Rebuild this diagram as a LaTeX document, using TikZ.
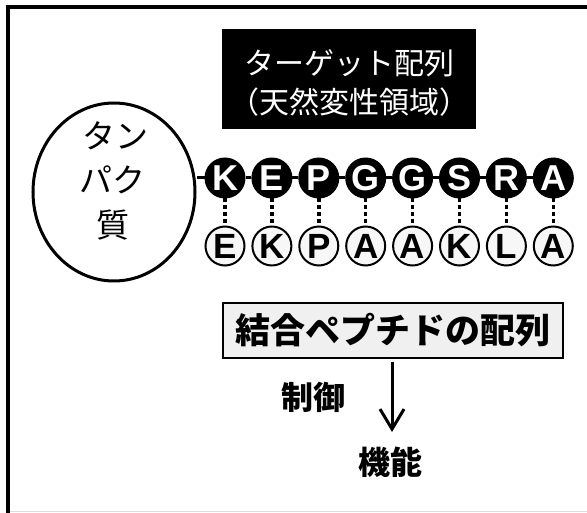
\documentclass[tikz,border=0pt]{standalone}
\usepackage{fontspec}
\setmainfont{Liberation Sans}
\newfontfamily\cjk{Noto Sans CJK JP}
\usetikzlibrary{arrows.meta,shapes.geometric}
\tikzset{
  tres/.style={circle, fill=black, draw=black, line width=1pt, minimum size=40pt, inner sep=0pt,
    text=white, font=\fontsize{36}{36}\selectfont\bfseries},
  bres/.style={circle, fill=gray!6, draw=black, line width=2pt, minimum size=39pt, inner sep=0pt,
    text=black, font=\fontsize{35}{35}\selectfont\bfseries},
  chainline/.style={line width=3pt},
  dotline/.style={line width=3.5pt, dash pattern=on 4pt off 3pt},
  jlabel/.style={font=\cjk\bfseries\fontsize{32}{32}\selectfont, inner sep=0pt},
  jlight/.style={font=\cjk\fontsize{33}{33}\selectfont, inner sep=0pt},
  jwhite/.style={font=\cjk\fontsize{30}{30}\selectfont, text=white, inner sep=0pt},
}
\begin{document}
\begin{tikzpicture}[x=1pt,y=-1pt]
\useasboundingbox (0,0) rectangle (587,513);
% frame
\draw[line width=3.5pt] (8,530) -- (8,7) -- (600,7);
\draw[gray!25, line width=1pt] (10,511) -- (587,511);
% target box
\node[fill=black, minimum width=254pt, minimum height=100pt, inner sep=0pt] (tgt) at (349,79) {};
\node[jwhite] (tgt1) at (349,63) {ターゲット配列};
\node[jwhite] (tgt2) at (349,102) {（天然変性領域）};
% protein
\node[draw, ellipse, line width=3pt, minimum width=162pt, minimum height=178pt, inner sep=0pt] (prot) at (114,192) {};
\node[jlight] (p1) at (115,136) {タン};
\node[jlight] (p2) at (112,180) {パク};
\node[jlight] (p3) at (113,225) {質};
% residues
\foreach \i/\a/\b in {0/K/E,1/E/K,2/P/P,3/G/A,4/G/A,5/S/K,6/R/L,7/A/A}{
  \node[tres] (t\i) at ({225+46.9*\i},178) {\a};
  \node[bres] (b\i) at ({225+46.9*\i},246) {\b};
  \draw[dotline] (t\i) -- (b\i);
}
\draw[chainline] (t0) -- (t0 -| prot.east);
\foreach \i [count=\j] in {0,...,6}{
  \draw[chainline] (t\i) -- (t\j);
}
% peptide box
\node[draw, fill=gray!12, line width=2.5pt, minimum width=340pt, minimum height=55pt, inner sep=0pt,
  font=\cjk\bfseries\fontsize{35}{35}\selectfont] (pep) at (393,330.5) {結合ペプチドの配列};
\node[jlabel] (ctl) at (313,397) {制御};
\node[jlabel] (fun) at (390,462) {機能};
\coordinate (a1) at (392,362);
\coordinate (a2) at (392,432);
\draw[line width=3pt, -{Straight Barb[length=20pt,width=24pt]}] (a1) -- (a2);
\end{tikzpicture}
\end{document}
